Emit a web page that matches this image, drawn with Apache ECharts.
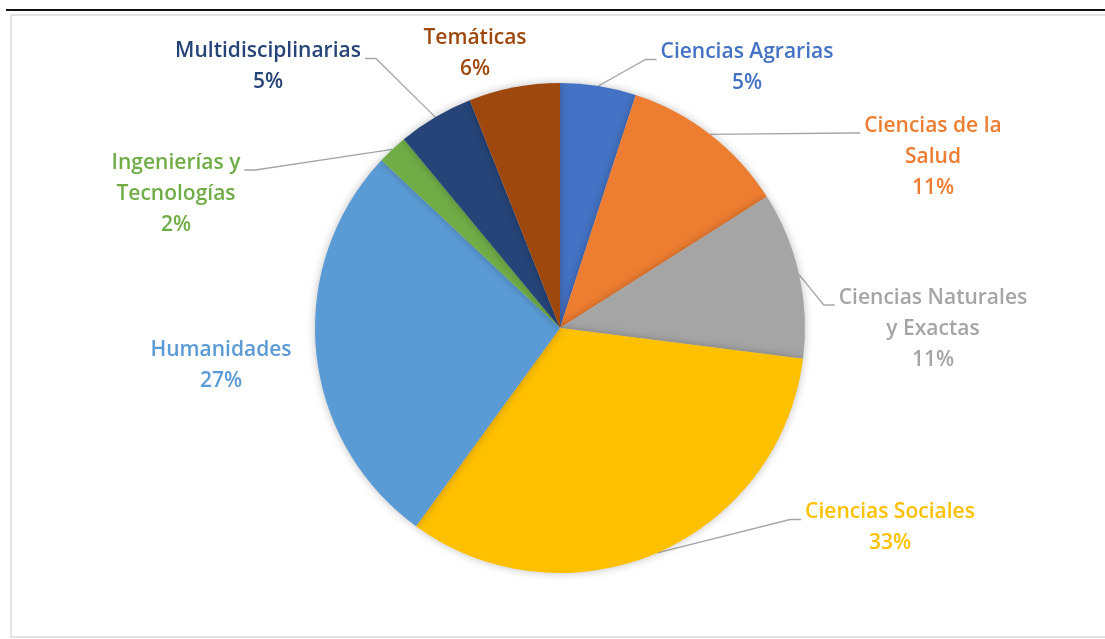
<!DOCTYPE html>
<html>
<head>
<meta charset="utf-8">
<script src="https://cdn.jsdelivr.net/npm/echarts@6/dist/echarts.min.js"></script>
<style>
  html, body { margin: 0; padding: 0; background: #fff; }
  #chart { width: 1105px; height: 639px; }
</style>
</head>
<body>
<div id="chart"></div>
<script>
// areas, clockwise from 12 o'clock
const areas = ['Ciencias Agrarias', 'Ciencias de la\nSalud', 'Ciencias Naturales\ny Exactas',
  'Ciencias Sociales', 'Humanidades', 'Ingenierías y\nTecnologías', 'Multidisciplinarias', 'Temáticas']
const shares = [5, 11, 11, 33, 27, 2, 5, 6]
const colors = ['#4472C4', '#ED7D31', '#A5A5A5', '#FFC000', '#5B9BD5', '#70AD47', '#264478', '#9E480E']
// where Excel put each label (centre of the text block)
const labelPos = [[747, 68], [933, 157], [933, 329], [890, 528], [221, 366], [176, 194], [268, 67], [475, 54]]
const hasLine = [true, true, true, true, false, true, true, false]

const LINE_H = 31
const chart = echarts.init(document.getElementById('chart'))

// Excel style leader: from the slice edge to the side of the label's first line, short flat end
function leader(p, x, y) {
  if (!p.labelLinePoints) return undefined
  const start = p.labelLinePoints[0]
  const w = p.labelRect.width, h = p.labelRect.height
  const onRight = x > start[0]
  const ex = onRight ? x - w / 2 - 4 : x + w / 2 + 4
  const ey = y - h / 2 + LINE_H / 2 + 7
  const elbow = [onRight ? ex - 11 : ex + 11, ey]
  return [start, elbow, [ex, ey]]
}

chart.setOption({
  animation: false,
  graphic: [
    { type: 'line', shape: { x1: 6, y1: 10, x2: 1105, y2: 10 }, style: { stroke: '#111', lineWidth: 2 } },
    { type: 'rect', shape: { x: 11, y: 15, width: 1100, height: 622 }, style: { fill: 'none', stroke: '#e3e3e3', lineWidth: 2 } }
  ],
  series: [{
    type: 'pie',
    center: [560, 328],
    radius: 245,
    startAngle: 90,
    data: areas.map((n, i) => ({
      name: n,
      value: shares[i],
      itemStyle: { color: colors[i] },
      label: { color: colors[i] },
      labelLine: { show: hasLine[i] }
    })),
    itemStyle: { shadowBlur: 8, shadowColor: 'rgba(0,0,0,0.25)' },
    label: {
      show: true,
      position: 'outer',
      fontFamily: 'Open Sans',
      fontWeight: 600,
      fontSize: 21,
      lineHeight: LINE_H,
      align: 'center',
      formatter: p => p.name + '\n' + Math.round(p.percent) + '%'
    },
    labelLine: { show: true, smooth: false, lineStyle: { color: '#a6a6a6', width: 1.3 } },
    labelLayout: p => {
      const [x, y] = labelPos[p.dataIndex]
      return {
        x: x,
        y: y,
        align: 'center',
        verticalAlign: 'middle',
        labelLinePoints: leader(p, x, y)
      }
    }
  }]
})
</script>
</body>
</html>
